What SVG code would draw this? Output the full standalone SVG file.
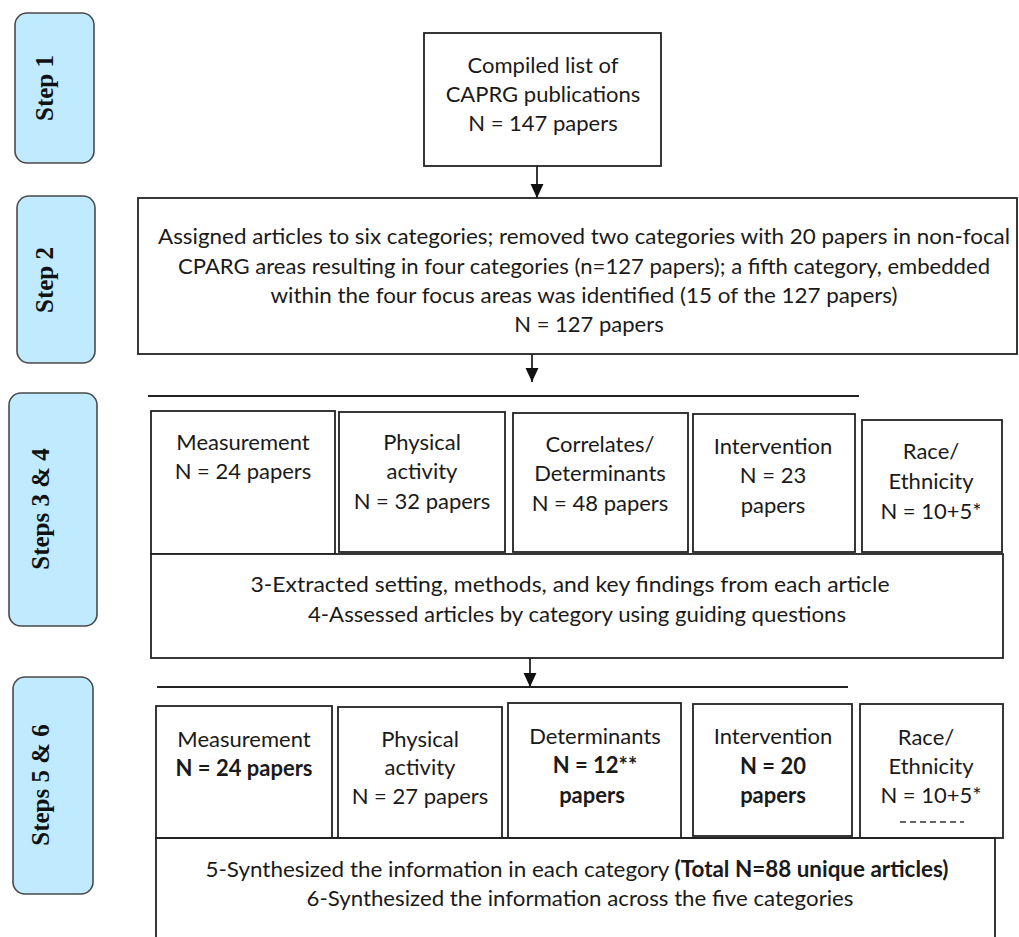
<svg xmlns="http://www.w3.org/2000/svg" width="1019" height="937" viewBox="0 0 1019 937">
<style>
.step{fill:#bfeaff;stroke:#4a4a4a;stroke-width:1.6}
.stxt{font-family:"Liberation Serif",serif;font-weight:bold;font-size:25px;fill:#111;text-anchor:middle}
.box{fill:#fff;stroke:#222;stroke-width:1.8}
.t{font-family:Lato,"Open Sans",sans-serif;font-size:22px;fill:#1a1a1a;text-anchor:middle}
.b{font-weight:bold}
.ln{stroke:#222;stroke-width:1.8;fill:none}
</style>
<defs>
<marker id="ah" markerUnits="userSpaceOnUse" markerWidth="14" markerHeight="14" viewBox="0 0 13 12" refX="13" refY="6" orient="auto">
<path d="M0,0 L13,6 L0,12 Z" fill="#111"/>
</marker>
</defs>
<rect width="1019" height="937" fill="#fff"/>

<g id="step1"><rect class="step" x="15" y="13" width="79" height="150" rx="12"/><text class="stxt" transform="translate(53,88) rotate(-90)">Step 1</text></g>
<g id="step2"><rect class="step" x="17" y="196" width="78" height="167" rx="12"/><text class="stxt" transform="translate(53,280) rotate(-90)">Step 2</text></g>
<g id="step34"><rect class="step" x="9" y="393" width="88" height="233" rx="12"/><text class="stxt" transform="translate(49,509) rotate(-90)">Steps 3 &amp; 4</text></g>
<g id="step56"><rect class="step" x="13" y="677" width="80" height="217" rx="12"/><text class="stxt" transform="translate(49,785) rotate(-90)">Steps 5 &amp; 6</text></g>

<g id="compiled"><rect class="box" x="424" y="33" width="237" height="133"/>
<text class="t" x="543" y="73">Compiled list of</text>
<text class="t" x="543" y="102">CAPRG publications</text>
<text class="t" x="543" y="131">N = 147 papers</text></g>

<g id="assigned"><rect class="box" x="138" y="198" width="879" height="156"/>
<text class="t" x="584" y="244" textLength="852" lengthAdjust="spacingAndGlyphs">Assigned articles to six categories; removed two categories with 20 papers in non-focal</text>
<text class="t" x="584" y="274" textLength="812" lengthAdjust="spacingAndGlyphs">CPARG areas resulting in four categories (n=127 papers); a fifth category, embedded</text>
<text class="t" x="584" y="303" textLength="627" lengthAdjust="spacingAndGlyphs">within the four focus areas was identified (15 of the 127 papers)</text>
<text class="t" x="589" y="332">N = 127 papers</text></g>

<g id="r1-measure"><rect class="box" x="151" y="411" width="184" height="143"/>
<text class="t" x="243" y="450">Measurement</text><text class="t" x="243" y="479">N = 24 papers</text></g>
<g id="r1-physical"><rect class="box" x="339" y="412" width="166" height="140"/>
<text class="t" x="422" y="450">Physical</text><text class="t" x="422" y="479">activity</text><text class="t" x="422" y="509">N = 32 papers</text></g>
<g id="r1-correlates"><rect class="box" x="513" y="413" width="175" height="139"/>
<text class="t" x="600" y="452">Correlates/</text><text class="t" x="600" y="481">Determinants</text><text class="t" x="600" y="511">N = 48 papers</text></g>
<g id="r1-intervention"><rect class="box" x="693" y="414" width="162" height="138"/>
<text class="t" x="773" y="454">Intervention</text><text class="t" x="773" y="483">N = 23</text><text class="t" x="773" y="513">papers</text></g>
<g id="r1-race"><rect class="box" x="862" y="420" width="140" height="132"/>
<text class="t" x="931" y="459">Race/</text><text class="t" x="931" y="489">Ethnicity</text><text class="t" x="931" y="519">N = 10+5*</text></g>
<g id="extract"><rect class="box" x="151" y="554" width="852" height="104"/>
<text class="t" x="570" y="592" textLength="639" lengthAdjust="spacingAndGlyphs">3-Extracted setting, methods, and key findings from each article</text>
<text class="t" x="577" y="622" textLength="538" lengthAdjust="spacingAndGlyphs">4-Assessed articles by category using guiding questions</text></g>

<g id="r2-measure"><rect class="box" x="156" y="706" width="176" height="132"/>
<text class="t" x="244" y="747">Measurement</text><text class="t b" x="244" y="776">N = 24 papers</text></g>
<g id="r2-physical"><rect class="box" x="338" y="707" width="164" height="131"/>
<text class="t" x="420" y="747">Physical</text><text class="t" x="420" y="775">activity</text><text class="t" x="420" y="804">N = 27 papers</text></g>
<g id="r2-determinants"><rect class="box" x="508" y="703" width="173" height="135"/>
<text class="t" x="595" y="744">Determinants</text><text class="t b" x="595" y="773">N = 12**</text><text class="t b" x="592" y="803">papers</text></g>
<g id="r2-intervention"><rect class="box" x="693" y="704" width="159" height="132"/>
<text class="t" x="773" y="744">Intervention</text><text class="t b" x="773" y="774">N = 20</text><text class="t b" x="773" y="803">papers</text></g>
<g id="r2-race"><rect class="box" x="860" y="704" width="143" height="134"/>
<text class="t" x="926" y="745">Race/</text><text class="t" x="931" y="774">Ethnicity</text><text class="t" x="931" y="803">N = 10+5*</text>
<line x1="900" y1="822" x2="964" y2="822" stroke="#333" stroke-width="1.5" stroke-dasharray="6,4"/></g>
<g id="synth"><path class="ln" d="M156,940 V838 H995 V940"/>
<text class="t" x="577" y="877" textLength="743" lengthAdjust="spacingAndGlyphs">5-Synthesized the information in each category <tspan class="b">(Total N=88 unique articles)</tspan></text>
<text class="t" x="580" y="906" textLength="547" lengthAdjust="spacingAndGlyphs">6-Synthesized the information across the five categories</text></g>

<g id="connectors">
<line class="ln" x1="537" y1="166" x2="537" y2="198" marker-end="url(#ah)"/>
<line class="ln" x1="532" y1="354" x2="532" y2="382" marker-end="url(#ah)"/>
<line class="ln" x1="148" y1="396" x2="859" y2="396"/>
<line class="ln" x1="530" y1="658" x2="530" y2="687" marker-end="url(#ah)"/>
<line class="ln" x1="157" y1="687" x2="848" y2="687"/>
</g>
</svg>
